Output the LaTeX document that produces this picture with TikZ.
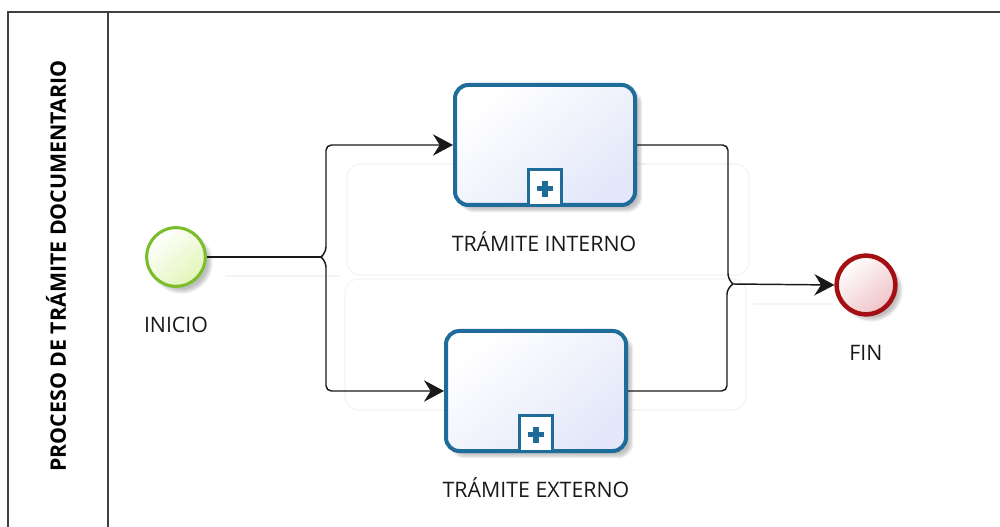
\documentclass[tikz,border=0pt]{standalone}
\usepackage{fontspec}
\setmainfont{Open Sans}
\usetikzlibrary{arrows.meta,shadows.blur,calc}
\definecolor{taskblue}{HTML}{1F6B9A}
\definecolor{taskfill}{HTML}{E3E7F9}
\definecolor{startgreen}{HTML}{7CBD2B}
\definecolor{startfill}{HTML}{E2F5B8}
\definecolor{endred}{HTML}{A30F12}
\definecolor{endfill}{HTML}{EFC3C7}
\definecolor{poolline}{HTML}{404040}
\definecolor{guide}{HTML}{F3F3F3}
\tikzset{
  pool/.style={draw=poolline, line width=1.2pt},
  guidebox/.style={draw=guide, line width=0.8pt, rounded corners=10},
  softshadow/.style={blur shadow={shadow xshift=4pt, shadow yshift=-4pt, shadow blur steps=6, shadow opacity=25}},
  startevent/.style={circle, draw=startgreen, line width=2.3pt, minimum size=44pt,
    inner sep=0, top color=white, bottom color=startfill, shading angle=40, softshadow},
  endevent/.style={circle, draw=endred, line width=3.4pt, minimum size=44pt,
    inner sep=0, top color=white, bottom color=endfill, shading angle=40, softshadow},
  subprocess/.style={rectangle, rounded corners=10, draw=taskblue, line width=3pt,
    minimum width=135pt, minimum height=90pt, inner sep=0,
    top color=white, bottom color=taskfill, shading angle=40, softshadow},
  expander/.style={rectangle, draw=taskblue, line width=2.2pt, fill=white,
    minimum width=25pt, minimum height=27pt, inner sep=0},
  label/.style={font=\fontsize{16}{19}\selectfont, text=black!90},
  flow/.style={draw=black!90, line width=1.1pt, rounded corners=4},
  tip/.style={-{Stealth[length=15pt, width=16pt, inset=5pt]}}
}
\begin{document}
\begin{tikzpicture}[x=0.75pt, y=-0.75pt]
  \useasboundingbox (0,0) rectangle (1000,527);

  % pool and its header band
  \draw[pool] (8,527) -- (8,12) -- (1000,12);
  \draw[pool] (108,12) -- (108,527);
  \node[rotate=90, font=\bfseries\fontsize{16}{19}\selectfont] (pooltitle) at (56,266)
    {PROCESO DE TRÁMITE DOCUMENTARIO};

  % faint routing guides
  \draw[guidebox] (347,164) rectangle (749,275);
  \draw[guidebox] (345,279) rectangle (746,410);
  \draw[guide, line width=0.8pt] (225,276) -- (340,276);
  \draw[guide, line width=0.8pt] (753,304) -- (833,304);

  % events and sub-processes
  \node[startevent] (inicio) at (176,257) {};
  \node[label] (inicioL) at (176,325) {INICIO};

  \node[subprocess] (interno) at (545,145) {};
  \node[expander, anchor=south] (internoM) at (interno.south) {};
  \draw[taskblue, line width=4pt] ($(internoM.center)+(-8,1)$) -- ++(16,0)
                                   ($(internoM.center)+(0,-7)$) -- ++(0,16);
  \node[label] (internoL) at (544,242) {TRÁMITE INTERNO};

  \node[subprocess] (externo) at (536,391) {};
  \node[expander, anchor=south] (externoM) at (externo.south) {};
  \draw[taskblue, line width=4pt] ($(externoM.center)+(-8,1)$) -- ++(16,0)
                                   ($(externoM.center)+(0,-7)$) -- ++(0,16);
  \node[label] (externoL) at (536,488) {TRÁMITE EXTERNO};

  \node[endevent] (fin) at (866,285) {};
  \node[label] (finL) at (866,353) {FIN};

  % split and merge points
  \coordinate (split) at (321,257);
  \coordinate (merge) at (733,284);

  % sequence flows
  \draw[flow] (inicio.east) -- (split);
  \draw[flow, tip] (split) -- (326,252) |- (interno.west);
  \draw[flow, tip] (split) -- (326,262) |- (externo.west);
  \draw[flow] (interno.east) -| (728,279) -- (merge);
  \draw[flow] (externo.east) -| (727,289) -- (merge);
  \draw[flow, tip, rounded corners=0] (merge) -- (fin.west);
\end{tikzpicture}
\end{document}
